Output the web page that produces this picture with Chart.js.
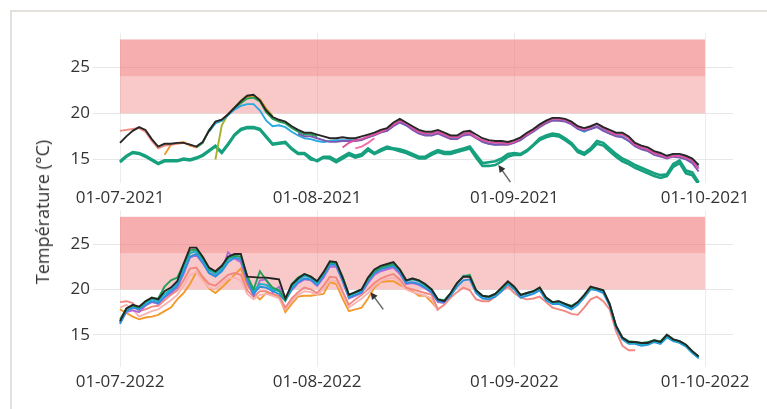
<!DOCTYPE html>
<html><head><meta charset="utf-8">
<script src="https://cdn.jsdelivr.net/npm/chart.js@4.4.0/dist/chart.umd.min.js"></script>
<style>
html,body{margin:0;padding:0;background:#fff;}
body{width:767px;height:409px;position:relative;overflow:hidden;font-family:'Open Sans',sans-serif;}
#frame{position:absolute;left:10px;top:10px;width:800px;height:500px;border-left:2px solid #e4e1dc;border-top:2px solid #e4e1dc;}
#c1{position:absolute;left:0;top:0;}
#c2{position:absolute;left:0;top:190px;}
#ytitle{position:absolute;left:42px;top:212px;transform:translate(-50%,-50%) rotate(-90deg);white-space:nowrap;font-size:18px;color:#333;font-family:'Open Sans',sans-serif;}
</style></head>
<body>
<div id="frame"></div>
<canvas id="c1" width="767" height="215"></canvas>
<canvas id="c2" width="767" height="219"></canvas>
<div id="ytitle">Température (°C)</div>
<script>
// ---- ticks / categories ----
const tickDays = [0, 31, 62, 92];
const tickLabels2021 = ["01-07-2021","01-08-2021","01-09-2021","01-10-2021"];
const tickLabels2022 = ["01-07-2022","01-08-2022","01-09-2022","01-10-2022"];
const yTicks = [15, 20, 25];
const bandStartDay = 0, bandEndDay = 92;
const bandLight = [20, 24];
const bandDark = [24, 28];

// ---- 2021 series (daily from 01-07) ----
const black21Start = 0;
const black21 = [16.8,17.5,18.1,18.5,18.2,17.2,16.4,16.7,16.7,16.8,
16.8,16.6,16.4,16.9,18.1,19.1,19.3,19.9,20.6,21.3,
21.9,22.0,21.4,20.3,19.6,19.3,19.1,18.6,18.2,17.9,
17.9,17.7,17.5,17.3,17.3,17.4,17.3,17.3,17.5,17.7,
17.9,18.2,18.4,19.0,19.4,19.0,18.6,18.2,18.0,18.0,
18.2,17.9,17.6,17.6,18.0,18.1,17.7,17.3,17.1,17.0,
17.0,16.9,17.1,17.4,17.9,18.3,18.8,19.2,19.5,19.5,
19.4,19.1,18.6,18.4,18.6,18.9,18.5,18.2,17.9,17.9,
17.5,16.8,16.5,16.3,15.9,15.7,15.4,15.6,15.6,15.4,
15.1,14.4];
const salmon21Start = 0;
const salmon21 = [18.1,18.2,18.3,18.4,18.0,17.0,16.2,16.5,16.6,16.7,16.8,16.6,16.3];
const blue21Start = 14;
const blue21 = [18.0,18.9,19.2,19.8,20.4,20.8,21.0,21.0,20.3,19.2,
18.6,18.7,18.5,18.0,17.6,17.3,17.2,17.0,16.9,17.0,
17.1,17.1,17.1,17.1,17.2,17.4,17.7,18.0,18.1,18.7,
19.1,18.7,18.3,17.9,17.7,17.8,18.0,17.6,17.3,17.3,
17.7,17.8,17.4,16.9,16.7,16.6,16.7,16.7,16.9,17.2,
17.6,18.1,18.6,19.0,19.3,19.3,19.2,18.9,18.3,18.0,
18.3,18.6,18.2,17.8,17.6,17.5,17.0,16.5,16.3,16.0,
15.7,15.5,15.3,15.6,15.4,15.2,14.8,14.2];
const green21Start = 12;
const green21 = [16.3,16.8,18.2,19.0,19.2,19.8,20.5,21.1,21.6,21.7,21.3,20.1,19.4,19.1,18.9,18.4,18.0,17.7,17.7,17.5];
const orange21Start = 7;
const orange21 = [15.5,16.6,16.8,16.9,16.5,16.3,16.8,18.2,19.0,19.3,19.9,20.6,21.2,21.7,21.9,21.5,20.4,19.5,19.2];
const olive21Start = 15;
const olive21 = [15.0,18.7,19.9,20.6,21.4,21.9,21.9,21.5,20.5,19.7];
const purple21Start = 28;
const purple21 = [17.8,17.5,17.5,17.3,17.1,16.9,16.9,17.0,17.0,17.0,
17.1,17.4,17.6,17.9,18.1,18.6,19.0,18.7,18.2,17.8,
17.6,17.6,17.8,17.5,17.2,17.2,17.6,17.7,17.3,16.9,
16.7,16.6,16.6,16.6,16.8,17.1,17.6,18.0,18.5,18.9,
19.2,19.2,19.1,18.8,18.3,18.1,18.3,18.5,18.1,17.8,
17.5,17.4,17.0,16.4,16.1,15.9,15.5,15.3,15.1,15.3,
15.2,15.0,14.6,13.7];
const magenta21Start = 35;
const magenta21 = [16.3,16.8,17.1,17.2,17.5,17.7,18.0,18.3,18.8,19.2,
18.9,18.4,18.0,17.8,17.8,18.0,17.7,17.4,17.4,17.8,
17.9,17.4,17.1,16.9,16.8,16.8,16.7,16.9,17.3,17.7,
18.2,18.7,19.1,19.4,19.4,19.3,19.0,18.5,18.3,18.5,
18.8,18.4,18.0,17.7,17.7,17.3,16.6,16.3,16.1,15.7,
15.5,15.2,15.4,15.4,15.2,14.9,14.0];
const pink21Start = 37;
const pink21 = [16.2,16.4,16.8,17.3];
const tealA21Start = 0;
const tealA21 = [14.7,15.3,15.7,15.6,15.3,14.9,14.5,14.8,14.8,14.8,
15.0,14.9,15.1,15.4,15.9,16.4,15.7,16.6,17.6,18.2,
18.4,18.4,18.2,17.4,16.6,16.7,16.8,16.1,15.6,15.6,
15.0,14.9,15.3,15.3,14.9,15.3,15.7,15.4,15.6,16.2,
15.7,16.1,16.4,16.2,16.1,15.9,15.6,15.3,15.3,15.7,
16.0,15.8,15.8,16.0,16.2,16.4,15.5,14.6,14.7,14.8,
15.1,15.6,15.7,15.6,16.0,16.6,17.3,17.6,17.8,17.7,
17.3,16.8,16.0,15.7,16.2,17.0,16.8,16.2,15.6,15.1,
14.8,14.4,14.1,13.8,13.5,13.3,13.4,14.5,14.9,13.8,
13.6,12.5];
const tealB21Start = 0;
const tealB21 = [14.8,15.4,15.8,15.7,15.4,15.0,14.6,14.9,14.9,14.9,
15.1,15.0,15.2,15.5,16.0,16.5,15.8,16.7,17.7,18.3,
18.5,18.5,18.3,17.5,16.7,16.8,16.9,16.2,15.7,15.7,
15.2,14.8,15.2,15.1,14.7,15.1,15.5,15.2,15.4,16.0,
15.6,15.9,16.2,16.1,15.9,15.7,15.4,15.1,15.1,15.5,
15.8,15.6,15.6,15.8,16.0,16.2,15.2,14.3,14.3,14.4,
14.8,15.3,15.5,15.5,15.9,16.5,17.1,17.4,17.6,17.5,
17.1,16.6,15.8,15.5,16.0,16.7,16.5,15.9,15.3,14.8,
14.5,14.1,13.8,13.5,13.2,13.0,13.2,14.2,14.6,13.5,
13.3,12.3];

// ---- 2022 series (daily from 01-07) ----
const black22Start = 0;
const black22 = [16.5,17.9,18.3,18.1,18.7,19.1,18.9,19.8,20.2,20.9,
22.8,24.6,24.6,23.6,22.4,22.0,22.6,23.6,23.9,23.9,
21.4,21.35,21.3,21.3,21.2,21.1,19.0,20.5,21.2,21.7,
21.4,20.9,21.9,23.1,23.0,21.3,19.4,19.7,20.0,21.3,
22.2,22.6,22.8,23.0,22.2,21.0,21.2,21.0,20.6,20.0,
18.9,18.7,19.6,20.7,21.4,21.4,19.9,19.3,19.2,19.5,
20.2,20.9,20.3,19.4,19.6,19.8,20.2,19.1,18.6,18.7,
18.4,18.1,18.6,19.4,20.3,20.1,19.9,18.4,16.0,14.7,
14.2,14.2,14.1,14.1,14.4,14.2,15.0,14.5,14.3,13.9,
13.2,12.6];
const green22Start = 0;
const green22 = [16.7,17.9,18.2,18.0,18.7,19.0,19.0,20.3,21.0,21.3,
22.8,24.3,24.4,23.5,22.3,21.9,22.5,23.5,23.7,23.6,
21.5,20.0,22.0,21.0,20.2,19.9,18.8,20.6,21.3,21.7,
21.4,20.9,21.8,23.0,22.9,21.4,19.4,19.7,20.0,21.2,
22.0,22.4,22.6,22.8,22.2,21.0,21.2,21.0,20.5,20.0,
18.9,18.8,19.6,20.7,21.4,21.6,19.9,19.3,19.2,19.5,
20.1,20.8,20.2,19.4,19.6,19.8,20.2,19.1,18.6,18.7,
18.4,18.2,18.6,19.3,20.2,20.1,19.9,18.4,16.0,14.7,
14.3,14.2,14.1,14.2,14.4,14.3,15.0,14.5,14.3,13.9,
13.2,12.6];
const cyan22Start = 0;
const cyan22 = [16.4,17.8,18.2,18.0,18.5,18.9,18.7,19.5,20.0,20.7,
22.3,24.0,24.2,23.3,22.1,21.7,22.3,23.3,23.7,23.6,
21.5,19.8,20.6,20.5,20.0,19.8,18.9,20.2,21.0,21.5,
21.3,20.7,21.7,22.9,22.9,21.3,19.3,19.6,19.9,21.1,
22.0,22.4,22.6,22.8,22.1,20.9,21.1,20.9,20.4,19.9,
18.9,18.8,19.5,20.6,21.5,21.5,19.8,19.2,19.1,19.4,
20.0,20.8,20.2,19.3,19.5,19.7,20.1,19.0,18.5,18.6,
18.3,18.0,18.5,19.3,20.2,20.0,19.8,18.3,15.9,14.6,
14.1,14.1,13.9,14.0,14.3,14.1,14.8,14.4,14.2,13.8,
13.1,12.5];
const blue22Start = 0;
const blue22 = [16.2,17.6,18.0,17.8,18.3,18.7,18.5,19.2,19.8,20.4,
21.9,23.6,23.9,23.0,21.8,21.4,22.0,23.0,23.5,23.3,
21.2,19.5,20.3,20.2,19.8,19.5,18.7,20.0,20.8,21.2,
21.1,20.5,21.5,22.7,22.7,21.0,19.1,19.4,19.7,20.9,
21.8,22.2,22.4,22.6,21.9,20.7,20.8,20.6,20.2,19.7,
18.7,18.6,19.3,20.3,21.0,21.1,19.6,19.0,18.9,19.2,
19.8,20.6,20.0,19.1,19.3,19.5,19.9,18.8,18.4,18.4,
18.1,17.8,18.3,19.1,20.0,19.9,19.6,18.2,15.8,14.5,
14.0,14.0,13.8,13.9,14.2,14.0,14.7,14.3,14.1,13.7,
13.0,12.4];
const purple22Start = 0;
const purple22 = [16.3,17.5,17.7,17.5,18.2,18.6,18.4,19.1,19.6,20.2,
21.7,23.5,23.8,22.9,21.8,21.5,22.1,24.1,23.4,23.0,
20.8,19.3,21.0,21.1,19.7,20.3,18.9,19.9,20.7,21.1,
21.0,20.4,21.3,22.5,22.5,20.9,19.0,19.3,19.6,20.7,
21.6,22.0,22.2,22.4,21.7,20.6,20.7,20.5,20.1,19.6,
18.6,18.5];
const salmon22Start = 0;
const salmon22 = [18.6,18.7,18.5,17.6,17.8,18.1,18.2,18.8,19.4,19.9,
21.0,22.3,22.4,21.4,20.6,20.4,21.0,21.6,21.8,21.6,
19.9,19.2,19.8,19.8,19.5,19.3,18.0,19.0,19.7,20.2,
20.0,19.6,20.4,21.4,21.3,19.8,18.3,18.9,19.4,20.0,
20.7,21.2,21.5,21.7,21.1,20.2,20.0,19.8,19.6,19.4,
17.8,18.3,19.1,19.7,20.2,19.9,18.9,18.7,18.7,19.2,
19.8,20.3,19.6,19.1,18.9,19.0,19.2,18.6,18.0,17.8,
17.6,17.3,17.2,18.0,18.9,19.2,18.7,17.8,15.4,13.8,
13.3,13.3];
const lightpink22Start = 0;
const lightpink22 = [18.0,18.3,17.8,17.0,17.3,17.6,17.8,18.3,18.8,19.4,
20.4,21.6,21.9,21.0,20.2,20.0,20.6,21.2,21.3,21.0,
19.5,18.9,19.4,19.5,19.3,19.0,17.8,18.7,19.4,19.8,
19.7,19.4,20.0,21.0,20.9,19.5,18.0,18.5,19.0,19.6,
20.4,20.9,21.2,21.3,20.8,20.0,19.7,19.5,19.3,19.0,
17.6];
const orange22Start = 0;
const orange22 = [17.8,17.4,17.0,16.7,16.9,17.0,17.2,17.6,18.0,18.9,
19.6,20.6,21.9,21.2,20.1,19.6,20.2,20.9,21.6,22.3,
20.5,19.5,18.9,19.6,19.5,19.2,17.5,18.4,19.2,19.3,
19.3,19.4,19.5,20.8,20.6,19.0,17.6,17.8,18.0,19.0,
20.2,20.8,20.9,20.9,20.5,20.2,19.8,19.3,19.3,18.6,
17.8];

// arrows (in data units: day, °C)
const arrows2021 = [[61.4, 12.55, 59.5, 14.4]];
const arrows2022 = [[41.4, 17.8, 39.4, 19.7]];

function pts(start, vals){ return vals.map((v,i)=>({x:start+i, y:v})); }
function ds(start, vals, color, w){
  return {data: pts(start, vals), borderColor: color, borderWidth: w||1.9, pointRadius: 0, tension: 0, fill: false, spanGaps: false};
}

const overlayPlugin = {
  id: 'overlay',
  beforeDatasetsDraw(chart){
    const {ctx, chartArea:a, scales:{x, y}} = chart;
    ctx.save();
    ctx.beginPath(); ctx.rect(a.left, a.top, a.width, a.height); ctx.clip();
    const x0 = x.getPixelForValue(bandStartDay), x1 = x.getPixelForValue(bandEndDay);
    [[bandLight,'rgba(240,110,110,0.38)'],[bandDark,'rgba(240,110,110,0.56)']].forEach(([b,c])=>{
      const yt = y.getPixelForValue(b[1]), yb = y.getPixelForValue(b[0]);
      ctx.fillStyle = c; ctx.fillRect(x0, yt, x1-x0, yb-yt);
    });
    ctx.restore();
  },
  afterDatasetsDraw(chart){
    const {ctx, scales:{x, y}} = chart;
    const list = chart.options.plugins.overlay.arrows || [];
    ctx.save();
    ctx.strokeStyle = '#666'; ctx.fillStyle = '#333'; ctx.lineWidth = 1.5;
    list.forEach(([tx,ty,hx,hy])=>{
      const X1 = x.getPixelForValue(tx), Y1 = y.getPixelForValue(ty);
      const X2 = x.getPixelForValue(hx), Y2 = y.getPixelForValue(hy);
      const ang = Math.atan2(Y2-Y1, X2-X1);
      ctx.beginPath(); ctx.moveTo(X1,Y1); ctx.lineTo(X2 - 5*Math.cos(ang), Y2 - 5*Math.sin(ang)); ctx.stroke();
      ctx.beginPath();
      ctx.moveTo(X2, Y2);
      ctx.lineTo(X2 - 8*Math.cos(ang-0.45), Y2 - 8*Math.sin(ang-0.45));
      ctx.lineTo(X2 - 8*Math.cos(ang+0.45), Y2 - 8*Math.sin(ang+0.45));
      ctx.closePath(); ctx.fill();
    });
    ctx.restore();
  }
};

function makeChart(id, datasets, labels, yMin, yMax, pad, arrows){
  return new Chart(document.getElementById(id), {
    type: 'line',
    data: {datasets},
    plugins: [overlayPlugin],
    options: {
      responsive: false, animation: false, devicePixelRatio: 1,
      layout: {padding: pad},
      plugins: {legend: {display: false}, tooltip: {enabled: false}, overlay: {arrows}},
      scales: {
        x: {
          type: 'linear', min: -4.25, max: 96.4,
          afterBuildTicks: s => { s.ticks = tickDays.map(v => ({value: v})); },
          afterFit: s => { s.height = 30; },
          ticks: {callback: (v) => labels[tickDays.indexOf(v)], font: {family: 'Open Sans', size: 17}, color: '#333', padding: 5, maxRotation: 0, autoSkip: false},
          grid: {color: '#ececec', lineWidth: 1, drawTicks: false},
          border: {display: false}
        },
        y: {
          min: yMin, max: yMax,
          afterBuildTicks: s => { s.ticks = yTicks.map(v => ({value: v})); },
          afterFit: s => { s.width = 40; },
          ticks: {font: {family: 'Open Sans', size: 17}, color: '#333', padding: 3},
          grid: {color: '#e6e6e6', lineWidth: 1, drawTicks: false},
          border: {display: false}
        }
      }
    }
  });
}

makeChart('c1', [
  ds(black21Start, black21, '#262626'),
  ds(magenta21Start, magenta21, '#e0509e'),
  ds(pink21Start, pink21, '#ef6fae'),
  ds(salmon21Start, salmon21, '#f08c84'),
  ds(purple21Start, purple21, '#7e57b2'),
  ds(blue21Start, blue21, '#2aa8e0'),
  ds(green21Start, green21, '#23a05a'),
  ds(orange21Start, orange21, '#f39a2a'),
  ds(olive21Start, olive21, '#a8b02a'),
  ds(tealA21Start, tealA21, '#17a07e', 2.6),
  ds(tealB21Start, tealB21, '#17a07e', 2.6)
], tickLabels2021, 12.45, 28.7, {left: 53, right: 34, top: 33, bottom: 2}, arrows2021);

makeChart('c2', [
  ds(black22Start, black22, '#262626'),
  ds(green22Start, green22, '#21a05a'),
  ds(cyan22Start, cyan22, '#19b0c8'),
  ds(blue22Start, blue22, '#2b8fe0'),
  ds(purple22Start, purple22, '#b06ad8'),
  ds(salmon22Start, salmon22, '#f2877f'),
  ds(lightpink22Start, lightpink22, '#f7b4b2'),
  ds(orange22Start, orange22, '#f29a2e')
], tickLabels2022, 11.45, 28.75, {left: 53, right: 34, top: 20, bottom: 12}, arrows2022);
</script>
</body></html>
